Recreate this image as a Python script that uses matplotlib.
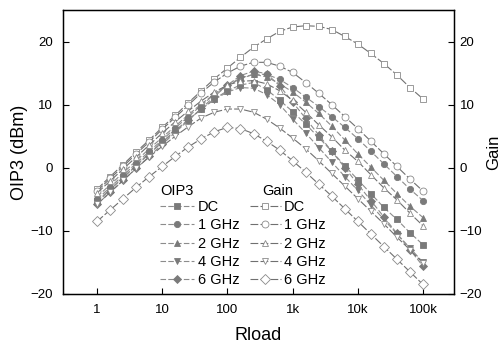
import matplotlib
matplotlib.use("Agg")
import matplotlib.pyplot as plt

plt.rcParams['font.family'] = ['Liberation Sans', 'DejaVu Sans']

rload = [1, 1.585, 2.512, 3.981, 6.31, 10, 15.85, 25.12, 39.81, 63.1,
         100, 158.5, 251.2, 398.1, 631, 1000, 1585, 2512, 3981, 6310,
         10000, 15850, 25120, 39810, 63100, 100000]

labels = ['DC', '1 GHz', '2 GHz', '4 GHz', '6 GHz']
marks = ['s', 'o', '^', 'v', 'D']

oip3 = [
    # DC
    [-5.5, -3.5, -1.6, 0.3, 2.2, 4.0, 5.8, 7.6, 9.3, 10.9, 12.2, 13.1, 13.5,
     12.4, 10.7, 8.9, 6.9, 4.8, 2.6, 0.3, -1.9, -4.1, -6.3, -8.2, -10.3, -12.2],
    # 1 GHz
    [-5.0, -3.1, -1.2, 0.7, 2.6, 4.4, 6.3, 8.1, 9.9, 11.6, 13.0, 14.1, 14.8,
     14.8, 14.0, 12.7, 11.2, 9.7, 8.1, 6.4, 4.6, 2.6, 0.6, -1.4, -3.4, -5.2],
    # 2 GHz
    [-4.6, -2.7, -0.8, 1.1, 3.0, 4.8, 6.6, 8.4, 10.1, 11.7, 13.1, 14.2, 14.8,
     14.4, 13.3, 12.0, 10.4, 8.6, 6.6, 4.4, 2.2, 0.1, -2.0, -4.1, -6.1, -7.9],
    # 4 GHz
    [-5.3, -3.4, -1.5, 0.4, 2.3, 4.1, 5.9, 7.6, 9.3, 10.8, 12.0, 12.7, 12.6,
     11.6, 10.0, 7.7, 5.5, 3.2, 0.9, -1.4, -3.6, -5.9, -8.2, -10.5, -12.7, -15.0],
    # 6 GHz
    [-5.8, -3.9, -2.0, -0.1, 1.8, 3.7, 5.6, 7.5, 9.4, 11.3, 13.1, 14.6, 15.3,
     14.9, 13.0, 10.4, 7.8, 5.2, 2.6, 0.0, -2.6, -5.2, -7.8, -10.4, -13.0, -15.6],
]

gain = [
    # DC
    [-3.4, -1.4, 0.5, 2.5, 4.4, 6.4, 8.3, 10.3, 12.2, 14.1, 15.8, 17.5, 19.1,
     20.4, 21.6, 22.3, 22.5, 22.4, 21.9, 20.8, 19.6, 18.1, 16.5, 14.7, 12.7, 10.9],
    # 1 GHz
    [-3.7, -1.7, 0.2, 2.2, 4.1, 6.1, 8.0, 9.9, 11.9, 13.6, 15.0, 16.1, 16.7,
     16.7, 16.1, 15.1, 13.5, 11.8, 10.0, 8.1, 6.2, 4.2, 2.2, 0.2, -1.8, -3.7],
    # 2 GHz
    [-4.0, -2.1, -0.2, 1.7, 3.6, 5.5, 7.3, 9.0, 10.6, 12.0, 13.1, 13.7, 13.8,
     13.3, 12.2, 10.7, 8.8, 6.8, 4.9, 2.8, 1.0, -1.1, -3.2, -5.1, -7.2, -9.2],
    # 4 GHz
    [-5.8, -3.9, -2.0, -0.1, 1.7, 3.4, 5.0, 6.5, 7.9, 8.8, 9.3, 9.3, 8.8,
     7.7, 6.3, 4.7, 3.0, 1.1, -0.9, -2.9, -4.9, -6.9, -8.9, -11.0, -13.0, -15.1],
    # 6 GHz
    [-8.5, -6.7, -4.9, -3.1, -1.4, 0.2, 1.8, 3.3, 4.6, 5.7, 6.4, 6.2, 5.4,
     4.2, 2.8, 1.1, -0.7, -2.6, -4.5, -6.5, -8.5, -10.5, -12.5, -14.5, -16.5, -18.5],
]

xticks = [1, 10, 100, 1000, 10000, 100000]
xticklabels = ['1', '10', '100', '1k', '10k', '100k']
yticks = [-20, -10, 0, 10, 20]

fig = plt.figure(figsize=(5.04, 3.43), dpi=100)
ax = fig.add_axes([0.125, 0.143, 0.776, 0.828])

oip3_handles = []
gain_handles = []
for i in range(len(labels)):
    h, = ax.plot(rload, oip3[i], color='#8c8c8c', linestyle=(0, (5, 2)),
                 linewidth=0.8, marker=marks[i], markersize=4.5,
                 markerfacecolor='#7a7a7a', markeredgecolor='#7a7a7a',
                 markeredgewidth=0.6)
    oip3_handles.append(h)
for i in range(len(labels)):
    h, = ax.plot(rload, gain[i], color='#707070', linestyle=(0, (7, 2)),
                 linewidth=0.8, marker=marks[i], markersize=5,
                 markerfacecolor='white', markeredgecolor='#8a8a8a',
                 markeredgewidth=0.6)
    gain_handles.append(h)

ax.set_xscale('log')
ax.set_xlim(0.3, 3e5)
ax.set_ylim(-20, 25)
ax.set_xticks(xticks)
ax.set_xticklabels(xticklabels)
ax.xaxis.set_minor_locator(matplotlib.ticker.NullLocator())
ax.set_yticks(yticks)
ax.tick_params(direction='in', length=4, width=0.8, labelsize=9.5, pad=7)
ax.set_xlabel('Rload', fontsize=13, labelpad=8)
ax.set_ylabel('OIP3 (dBm)', fontsize=13, labelpad=2)
for s in ax.spines.values():
    s.set_linewidth(1.0)

ax2 = ax.twinx()
ax2.set_ylim(-20, 25)
ax2.set_yticks(yticks)
ax2.tick_params(direction='in', length=4, width=0.8, labelsize=9.5, pad=4)
ax2.set_ylabel('Gain', fontsize=12, labelpad=3)

ax.text(0.248, 0.363, 'OIP3', transform=ax.transAxes, fontsize=10.5,
        va='center', ha='left')
ax.text(0.509, 0.363, 'Gain', transform=ax.transAxes, fontsize=10.5,
        va='center', ha='left')

leg1 = ax.legend(oip3_handles, labels, loc='upper left',
                 bbox_to_anchor=(0.248, 0.331), frameon=False, fontsize=10.5,
                 handlelength=2.3, handletextpad=0.3, borderpad=0,
                 labelspacing=0.3, borderaxespad=0)
ax.add_artist(leg1)
leg2 = ax.legend(gain_handles, labels, loc='upper left',
                 bbox_to_anchor=(0.478, 0.331), frameon=False, fontsize=10.5,
                 handlelength=2.1, handletextpad=0.25, borderpad=0,
                 labelspacing=0.3, borderaxespad=0)

fig.savefig('out.png', dpi=100)
